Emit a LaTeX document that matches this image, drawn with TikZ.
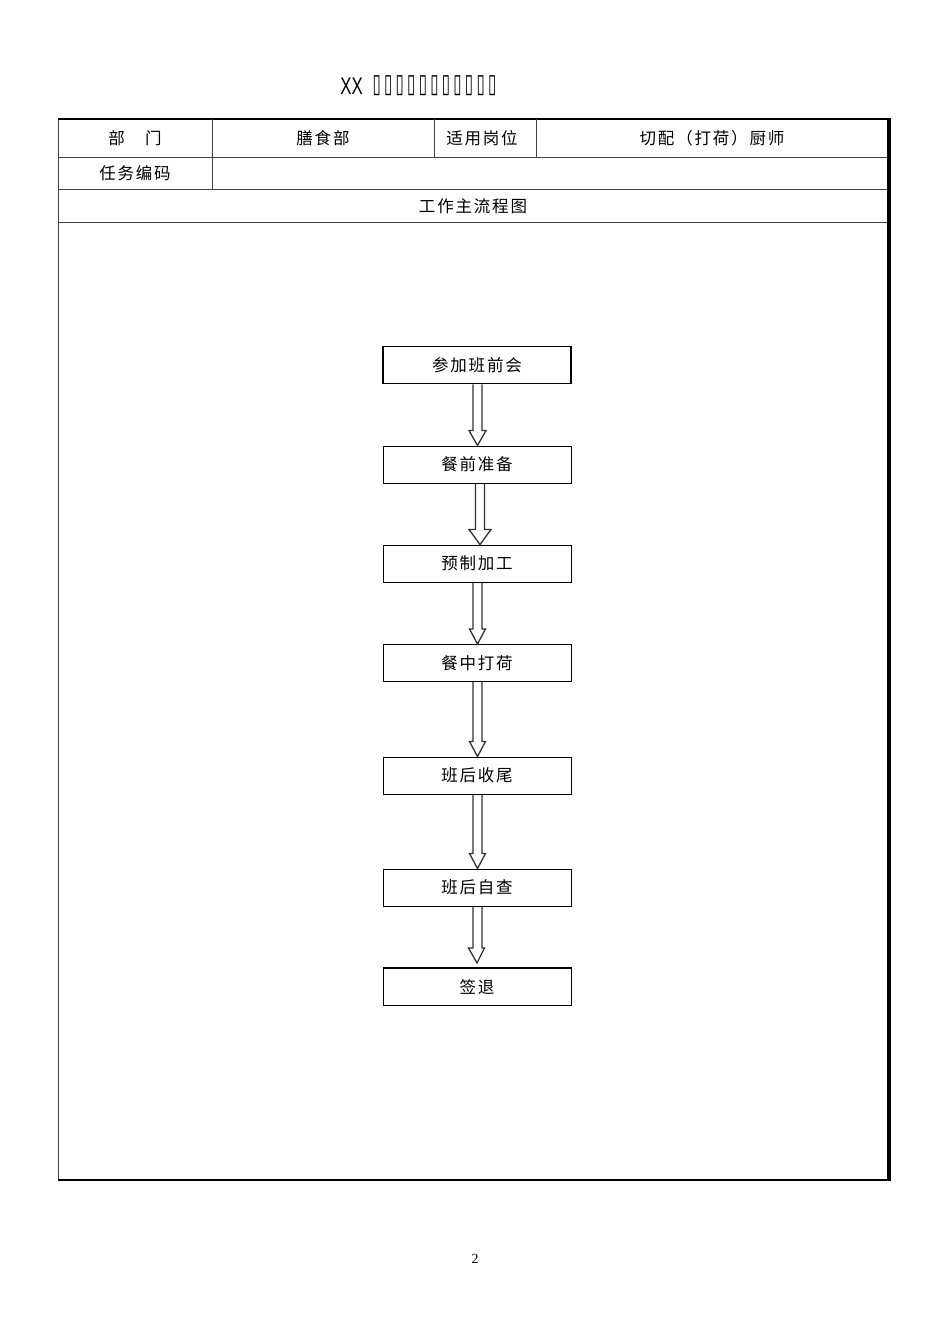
\documentclass[tikz,border=0pt]{standalone}
\usepackage{fontspec}
\usepackage{graphicx}
\usetikzlibrary{calc}
\setmainfont{Liberation Serif}
\newfontfamily\cjk[LetterSpace=11]{Noto Sans CJK SC}
\newfontfamily\titlefont{Liberation Sans}
\newfontfamily\symfont[LetterSpace=22]{DejaVu Sans}
\tikzset{
  tline/.style={line width=0.9pt, draw=black!75},
  celltext/.style={font=\cjk\fontsize{16.5}{18}\selectfont, inner sep=0pt, anchor=center},
  flowbox/.style={draw=black, line width=1pt, minimum width=188pt, minimum height=37pt,
     inner sep=0pt, font=\cjk\fontsize{16.5}{18}\selectfont},
  arrowline/.style={draw=black!80, line width=1.3pt, line join=miter},
}
\newcommand\flowarrow[4]{%
  \draw[arrowline] ($(#1.south)+(#3-4.5,0)$) -- ($(#2.north)+(#3-4.5,-15)$)
    -- ($(#2.north)+(#3-#4,-15)$) -- ($(#2.north)+(#3,0)$)
    -- ($(#2.north)+(#3+#4,-15)$) -- ($(#2.north)+(#3+4.5,-15)$)
    -- ($(#1.south)+(#3+4.5,0)$);}
\begin{document}
\begin{tikzpicture}[x=1pt,y=-1pt]
\useasboundingbox[fill=white] (0,0) rectangle (950,1344);
% title
\node[inner sep=0pt, anchor=center] (titlexx) at (351.5,86)
  {\titlefont\fontsize{24}{26}\selectfont\scalebox{0.7}[1]{XX}};
\node[inner sep=0pt, anchor=center] (titlebox) at (434.5,86)
  {\symfont\fontsize{15}{20}\selectfont\scalebox{1}[1.75]{▯▯▯▯▯▯▯▯▯▯▯}};
% table frame
\draw[tline] (58,119) rectangle (888,1179);
\draw[line width=1.4pt] (58,119) -- (888,119);
\draw[tline] (58,157) -- (888,157);
\draw[tline] (58,189) -- (888,189);
\draw[tline] (58,222) -- (888,222);
\draw[tline] (212,119) -- (212,189);
\draw[tline] (434,119) -- (434,157);
\draw[tline] (536,119) -- (536,157);
\draw[line width=3.2pt] (889,118) -- (889,1180.5);
\draw[line width=2pt] (57.5,1179.5) -- (890,1179.5);
% cell texts
\node[celltext] (c11) at (135,138) {部　门};
\node[celltext] (c12) at (323,138) {膳食部};
\node[celltext] (c13) at (482,138) {适用岗位};
\node[celltext] (c14) at (712,138) {切配（打荷）厨师};
\node[celltext] (c21) at (135,173) {任务编码};
\node[celltext] (c31) at (473,206) {工作主流程图};
% flow boxes
\node[flowbox, line width=1.8pt] (b1) at (477,365) {参加班前会};
\node[flowbox] (b2) at (477,464.5) {餐前准备};
\node[flowbox] (b3) at (477,563.5) {预制加工};
\node[flowbox] (b4) at (477,663) {餐中打荷};
\node[flowbox] (b5) at (477,775.5) {班后收尾};
\node[flowbox] (b6) at (477,887.5) {班后自查};
\node[flowbox] (b7) at (477,987) {签退};
\draw[line width=1.8pt] (b7.north west) -- (b7.north east);
% arrows
\flowarrow{b1}{b2}{0.5}{8.5}
\flowarrow{b2}{b3}{3}{11}
\flowarrow{b3}{b4}{0.5}{8}
\flowarrow{b4}{b5}{0.5}{8}
\flowarrow{b5}{b6}{0.5}{8}
\coordinate (b7gap) at ($(b7.north)+(0,-5)$);
\draw[arrowline] ($(b6.south)+(-4,0)$) -- ($(b7gap)+(-4,-15)$) -- ($(b7gap)+(-8.5,-15)$)
  -- (b7gap) -- ($(b7gap)+(7.5,-15)$) -- ($(b7gap)+(5,-15)$) -- ($(b6.south)+(5,0)$);
% page number
\node[inner sep=0pt, font=\fontsize{14}{16}\selectfont] (pg) at (475,1259) {2};
\end{tikzpicture}
\end{document}
